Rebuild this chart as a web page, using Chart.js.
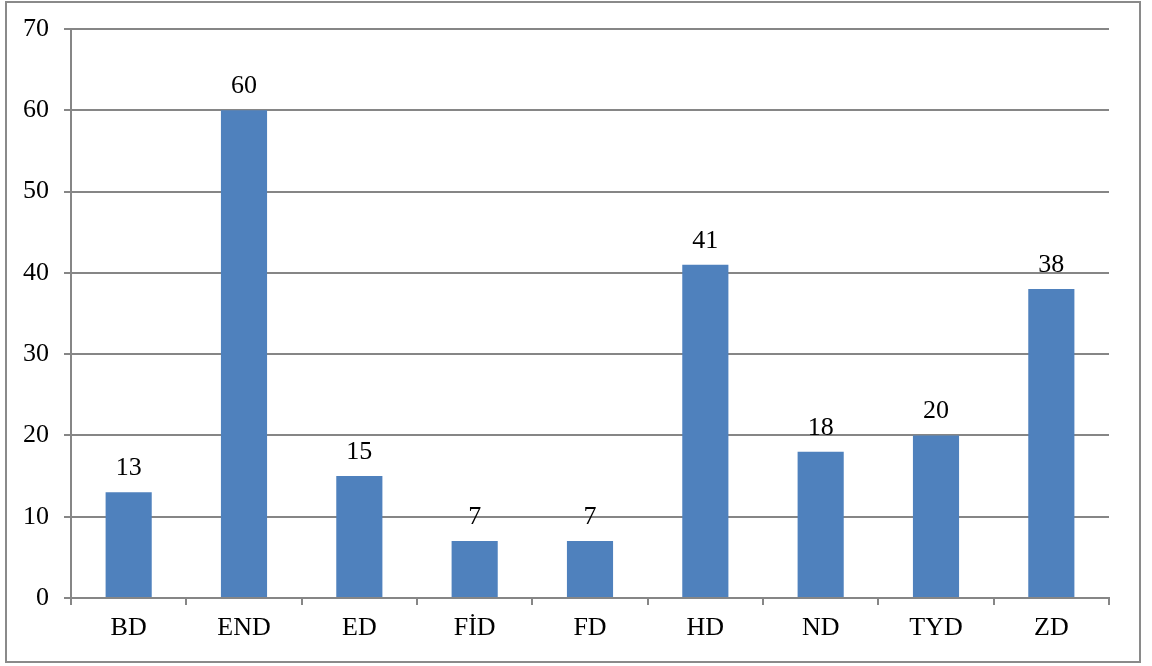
<!DOCTYPE html>
<html>
<head>
<meta charset="utf-8">
<script src="https://cdn.jsdelivr.net/npm/chart.js@4.4.1/dist/chart.umd.min.js"></script>
<style>
  html, body { margin: 0; padding: 0; background: #fff; }
  #wrap { position: relative; width: 1152px; height: 666px; }
  #frame { position: absolute; left: 5px; top: 1px; width: 1132px; height: 658px; border: 2px solid #8a8a8a; }
  canvas { position: absolute; left: 0; top: 0; }
</style>
</head>
<body>
<div id="wrap">
  <div id="frame"></div>
  <canvas id="chart" width="1152" height="666"></canvas>
</div>
<script>
const categories = ['BD', 'END', 'ED', 'FİD', 'FD', 'HD', 'ND', 'TYD', 'ZD'];
const counts = [13, 60, 15, 7, 7, 41, 18, 20, 38];
const yTicks = [0, 10, 20, 30, 40, 50, 60, 70];

const FONT = "'Liberation Serif', 'Times New Roman', serif";
const GRID = '#868686';

// value labels above each bar
const barLabels = {
  id: 'barLabels',
  afterDatasetsDraw(chart) {
    const ctx = chart.ctx;
    const meta = chart.getDatasetMeta(0);
    ctx.save();
    ctx.font = '26px ' + FONT;
    ctx.fillStyle = '#000';
    ctx.textAlign = 'center';
    ctx.textBaseline = 'alphabetic';
    meta.data.forEach((bar, i) => {
      ctx.fillText(String(counts[i]), bar.x, bar.y - 17);
    });
    ctx.restore();
  }
};

new Chart(document.getElementById('chart').getContext('2d'), {
  type: 'bar',
  data: {
    labels: categories,
    datasets: [{
      data: counts,
      backgroundColor: '#4F81BD',
      barPercentage: 0.4,
      categoryPercentage: 1.0
    }]
  },
  options: {
    responsive: false,
    animation: false,
    layout: { padding: { left: 0, right: 43, top: 29, bottom: 0 } },
    plugins: {
      legend: { display: false },
      tooltip: { enabled: false }
    },
    scales: {
      x: {
        afterFit(scale) { scale.height = 68; },
        grid: {
          offset: true,
          drawOnChartArea: false,
          drawTicks: true,
          tickLength: 7,
          color: GRID,
          lineWidth: 2
        },
        border: { color: GRID, width: 2 },
        ticks: {
          color: '#000',
          font: { family: FONT, size: 26 },
          padding: 8,
          maxRotation: 0
        }
      },
      y: {
        min: 0,
        max: 70,
        afterFit(scale) {
          scale.width = 71;
          scale.paddingTop = 0;
          scale.paddingBottom = 0;
        },
        afterBuildTicks(scale) { scale.ticks = yTicks.map(v => ({ value: v })); },
        grid: {
          color: GRID,
          lineWidth: 2,
          drawTicks: true,
          tickLength: 7
        },
        border: { color: GRID, width: 2 },
        ticks: {
          color: '#000',
          font: { family: FONT, size: 26 },
          padding: 15
        }
      }
    }
  },
  plugins: [barLabels]
});
</script>
</body>
</html>
